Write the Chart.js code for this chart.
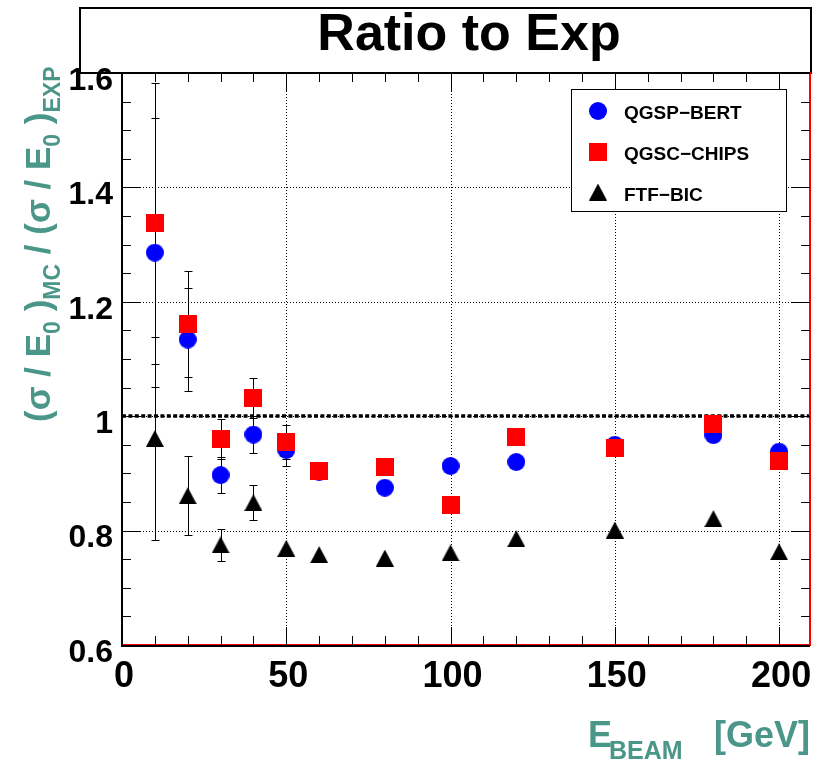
<!DOCTYPE html>
<html>
<head>
<meta charset="utf-8">
<script src="https://cdn.jsdelivr.net/npm/chart.js@4.4.1/dist/chart.umd.min.js"></script>
<style>
  html, body { margin: 0; padding: 0; background: #ffffff; }
  canvas { display: block; }
</style>
</head>
<body>
<canvas id="ratioChart" width="822" height="762"></canvas>
<script>
// Beam energies [GeV]
const energies = [10, 20, 30, 40, 50, 60, 80, 100, 120, 150, 180, 200];

// Resolution ratio MC / data for each physics list, with errors
const qgspBert    = [1.286, 1.134, 0.897, 0.968, 0.941, 0.903, 0.875, 0.913, 0.920, 0.950, 0.967, 0.938];
const qgspBertErr = [0.235, 0.090, 0.031, 0.033, 0.028, 0, 0, 0, 0, 0, 0, 0];
const qgscChips    = [1.337, 1.161, 0.960, 1.032, 0.955, 0.905, 0.912, 0.845, 0.964, 0.945, 0.986, 0.921];
const qgscChipsErr = [0.245, 0.093, 0.035, 0.035, 0.030, 0, 0, 0, 0, 0, 0, 0];
const ftfBic    = [0.961, 0.861, 0.775, 0.849, 0.769, 0.758, 0.752, 0.761, 0.786, 0.801, 0.821, 0.763];
const ftfBicErr = [0.177, 0.069, 0.028, 0.030, 0, 0, 0, 0, 0, 0, 0, 0];

const seriesNames = ['QGSP\u2212BERT', 'QGSC\u2212CHIPS', 'FTF\u2212BIC'];

// Axis ticks
const xTickValues = [0, 50, 100, 150, 200];
const xTickLabels = ['0', '50', '100', '150', '200'];
const yTickValues = [0.6, 0.8, 1.0, 1.2, 1.4, 1.6];
const yTickLabels = ['0.6', '0.8', '1', '1.2', '1.4', '1.6'];

const FONT = '"Liberation Sans", Arial, Helvetica, sans-serif';
const TEAL = 'rgb(74,150,136)';

// Marker sprites (full circle, square and triangle)
function makeMarker(kind, color) {
  const c = document.createElement('canvas');
  if (kind === 'triangle') { c.width = 18; c.height = 17; } else { c.width = 18; c.height = 18; }
  const g = c.getContext('2d');
  g.fillStyle = color;
  if (kind === 'circle') {
    g.beginPath(); g.arc(9, 9, 9, 0, Math.PI * 2); g.fill();
  } else if (kind === 'square') {
    g.fillRect(0, 0, 18, 18);
  } else {
    g.beginPath(); g.moveTo(9, 0); g.lineTo(18, 17); g.lineTo(0, 17); g.closePath(); g.fill();
  }
  return c;
}
const markers = [
  makeMarker('circle', '#0000ff'),
  makeMarker('square', '#ff0000'),
  makeMarker('triangle', '#000000')
];

function toPoints(ys) { return energies.map((e, i) => ({ x: e, y: ys[i] })); }

function line(ctx, x1, y1, x2, y2) {
  ctx.beginPath(); ctx.moveTo(x1, y1); ctx.lineTo(x2, y2); ctx.stroke();
}

function drawRich(ctx, parts, mainFont, subFont, subShift) {
  let x = 0;
  parts.forEach(([txt, sub]) => {
    ctx.font = sub ? subFont : mainFont;
    ctx.fillText(txt, x, sub ? subShift : 0);
    x += ctx.measureText(txt).width;
  });
}

const rootStyle = {
  id: 'rootStyle',
  beforeDraw(chart) {
    const { ctx } = chart;
    ctx.save();
    // title box
    ctx.strokeStyle = '#000'; ctx.lineWidth = 2;
    ctx.strokeRect(80, 8, 731, 65);
    ctx.fillStyle = '#000';
    ctx.font = 'bold 52px ' + FONT;
    ctx.textAlign = 'center'; ctx.textBaseline = 'alphabetic';
    ctx.fillText('Ratio to Exp', 469, 50);
    ctx.restore();
  },
  beforeDatasetsDraw(chart) {
    const { ctx, chartArea: a, scales: { x, y } } = chart;
    ctx.save();
    // dotted grid
    ctx.strokeStyle = '#000'; ctx.lineWidth = 1; ctx.setLineDash([1, 2]);
    xTickValues.forEach(v => {
      if (v <= x.min || v >= x.max) return;
      const px = Math.round(x.getPixelForValue(v)) + 0.5;
      line(ctx, px, a.top, px, a.bottom);
    });
    yTickValues.forEach(v => {
      if (v <= y.min || v >= y.max) return;
      const py = Math.round(y.getPixelForValue(v)) + 0.5;
      line(ctx, a.left, py, a.right, py);
    });
    // reference line at ratio 1
    ctx.setLineDash([4, 2.4]); ctx.lineWidth = 3.5;
    const p1 = Math.round(y.getPixelForValue(1));
    line(ctx, a.left, p1, a.right, p1);
    // error bars
    ctx.setLineDash([]); ctx.lineWidth = 1;
    ctx.beginPath(); ctx.rect(a.left, a.top, a.right - a.left, a.bottom - a.top); ctx.clip();
    chart.data.datasets.forEach(ds => {
      ds.errors.forEach((e, i) => {
        if (!e) return;
        const pt = ds.data[i];
        const px = Math.round(x.getPixelForValue(pt.x)) + 0.5;
        const yHi = Math.round(y.getPixelForValue(pt.y + e)) + 0.5;
        const yLo = Math.round(y.getPixelForValue(pt.y - e)) + 0.5;
        line(ctx, px, yHi, px, yLo);
        line(ctx, px - 4, yHi, px + 4, yHi);
        line(ctx, px - 4, yLo, px + 4, yLo);
      });
    });
    ctx.restore();
  },
  afterDatasetsDraw(chart) {
    const { ctx, chartArea: a, scales: { x, y } } = chart;
    ctx.save();
    // frame
    ctx.strokeStyle = '#ff0000'; ctx.lineWidth = 2;
    ctx.strokeRect(a.left, a.top, a.right - a.left, a.bottom - a.top);
    ctx.strokeStyle = '#000'; ctx.lineWidth = 2;
    line(ctx, a.left, a.top, a.left, a.bottom + 2);
    line(ctx, a.left - 1, a.bottom + 1, a.right, a.bottom + 1);
    line(ctx, a.left - 1, a.top, a.right, a.top);
    // tick marks on all four sides, pointing inward
    ctx.lineWidth = 1;
    for (let v = 0; v <= x.max + 1e-9; v += 10) {
      const len = (v % 50 === 0) ? 18 : 9;
      const px = Math.round(x.getPixelForValue(v)) + 0.5;
      if (px >= a.right - 1) continue;
      line(ctx, px, a.bottom, px, a.bottom - len);
      line(ctx, px, a.top, px, a.top + len);
    }
    for (let k = 0; k <= 20; k++) {
      const v = 0.6 + k * 0.05;
      const len = (k % 4 === 0) ? 18 : 9;
      const py = Math.round(y.getPixelForValue(v)) + 0.5;
      line(ctx, a.left, py, a.left + len, py);
      line(ctx, a.right, py, a.right - len, py);
    }
    ctx.restore();
  },
  afterDraw(chart) {
    const { ctx } = chart;
    ctx.save();
    // legend box
    ctx.textAlign = 'left'; ctx.textBaseline = 'alphabetic';
    ctx.fillStyle = '#fff';
    ctx.fillRect(571, 89, 215, 122);
    ctx.strokeStyle = '#000'; ctx.lineWidth = 1;
    ctx.strokeRect(571.5, 89.5, 215, 122);
    const rows = [111, 152, 192];
    const baselines = [119, 160, 201];
    ctx.font = 'bold 19px ' + FONT;
    ctx.fillStyle = '#000';
    seriesNames.forEach((name, i) => {
      const m = markers[i];
      ctx.drawImage(m, 598 - m.width / 2, rows[i] - m.height / 2);
      ctx.fillText(name, 624, baselines[i]);
    });

    // y axis title
    ctx.fillStyle = TEAL;
    ctx.save();
    ctx.translate(50, 422);
    ctx.rotate(-Math.PI / 2);
    drawRich(ctx, [
      ['(\u03c3 / E', 0], ['0', 1], [' )', 0], ['MC', 1],
      [' / (\u03c3 / E', 0], ['0', 1], [' )', 0], ['EXP', 1]
    ], 'bold 35px ' + FONT, 'bold 23px ' + FONT, 10);
    ctx.restore();

    // x axis title
    ctx.font = 'bold 36px ' + FONT;
    ctx.fillText('E', 588, 747);
    ctx.font = 'bold 25px ' + FONT;
    ctx.fillText('BEAM', 609, 759);
    ctx.font = 'bold 36px ' + FONT;
    ctx.fillText('[GeV]', 714, 747);
    ctx.restore();
  }
};

const datasets = [
  { label: seriesNames[0], data: toPoints(qgspBert), errors: qgspBertErr, pointStyle: markers[0], order: 2 },
  { label: seriesNames[1], data: toPoints(qgscChips), errors: qgscChipsErr, pointStyle: markers[1], order: 1 },
  { label: seriesNames[2], data: toPoints(ftfBic), errors: ftfBicErr, pointStyle: markers[2], order: 3 }
].map(d => Object.assign(d, { pointRadius: 9, pointHoverRadius: 9, showLine: false }));

new Chart(document.getElementById('ratioChart'), {
  type: 'scatter',
  data: { datasets },
  plugins: [rootStyle],
  options: {
    responsive: false,
    animation: false,
    devicePixelRatio: 1,
    layout: { padding: { top: 73, right: 12, left: 0, bottom: 0 } },
    plugins: { legend: { display: false }, tooltip: { enabled: false }, title: { display: false } },
    events: [],
    scales: {
      x: {
        type: 'linear', position: 'bottom', min: 0, max: 209.4,
        grid: { display: false, drawTicks: false }, border: { display: false },
        afterBuildTicks: s => { s.ticks = xTickValues.map(v => ({ value: v })); },
        afterFit: s => { s.height = 117; },
        ticks: {
          autoSkip: false, maxRotation: 0, padding: 10, labelOffset: 2, color: '#000',
          font: { family: FONT, weight: 'bold', size: 36 },
          callback: v => xTickLabels[xTickValues.indexOf(v)]
        }
      },
      y: {
        type: 'linear', min: 0.6, max: 1.6,
        grid: { display: false, drawTicks: false }, border: { display: false },
        afterBuildTicks: s => { s.ticks = yTickValues.map(v => ({ value: v })); },
        afterFit: s => { s.width = 122; },
        ticks: {
          autoSkip: false, padding: 9, labelOffset: 8, color: '#000',
          font: { family: FONT, weight: 'bold', size: 32 },
          callback: v => yTickLabels[yTickValues.indexOf(v)]
        }
      }
    }
  }
});
</script>
</body>
</html>
